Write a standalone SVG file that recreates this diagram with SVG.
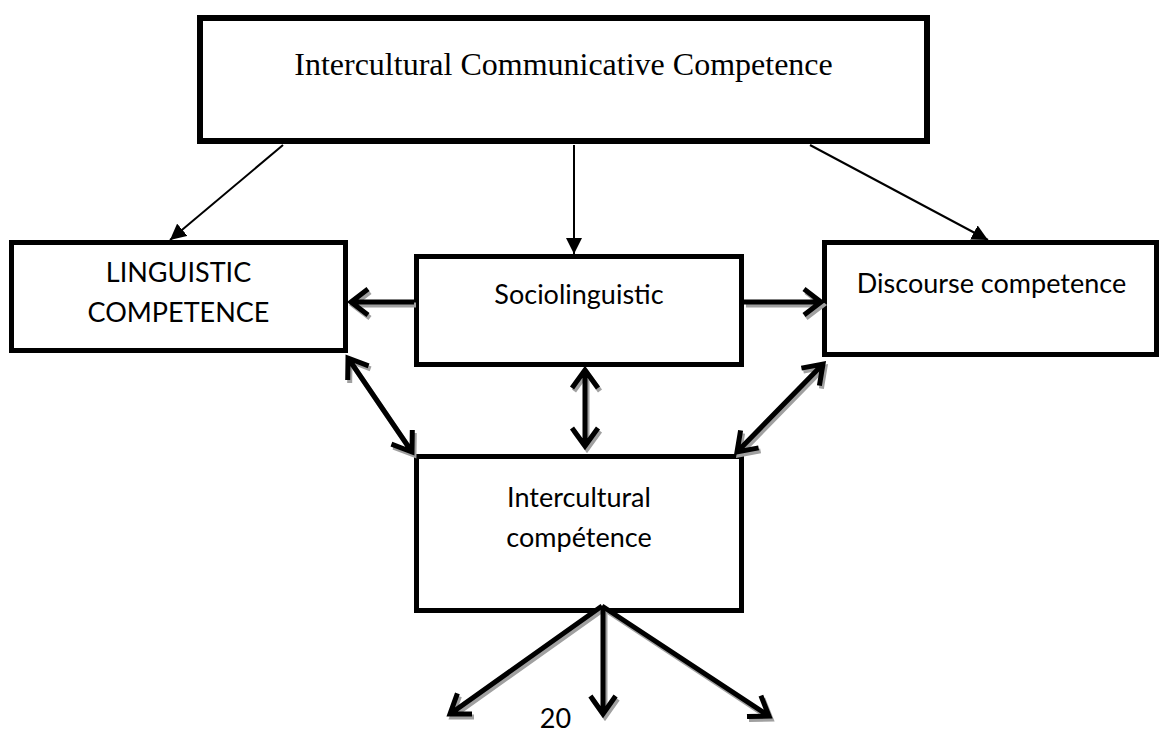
<svg xmlns="http://www.w3.org/2000/svg" xmlns:xlink="http://www.w3.org/1999/xlink" width="1160" height="734" viewBox="0 0 1160 734">
<style>
.box{fill:#fff;stroke:#000}
.lbl{font-family:Lato,"Open Sans","Liberation Sans",sans-serif;font-size:27px;fill:#000;text-anchor:middle}
.title{font-family:"Liberation Serif","Times New Roman",serif;font-size:32px;fill:#000;text-anchor:middle}
.thin{fill:none;stroke:#000;stroke-width:2}
.thick{fill:none;stroke-width:5;stroke-linecap:butt;stroke-linejoin:miter}
</style>
<defs>
<marker id="tri" markerUnits="userSpaceOnUse" markerWidth="16" markerHeight="16" refX="14" refY="7" orient="auto" viewBox="0 0 14 14">
<path d="M0,0 L14,7 L0,14 Z" fill="#000"/>
</marker>
<g id="thickArrows">
<path d="M414,302 H352 M368,289 L351,302 L368,315"/>
<path d="M744,302 H820 M804,289 L821,302 L804,315"/>
<path d="M585,371 V445 M572,388 L585,370 L598,388 M572,428 L585,446 L598,428"/>
<path d="M348,358 L412,452 M347.7,380 L348,358 L368.6,365.8 M412.3,430 L412,452 L391.4,444.2"/>
<path d="M823,364 L737,452 M801.4,368.1 L823,364 L819.4,385.7 M758.6,447.9 L737,452 L740.6,430.3"/>
<path d="M602,606 L450,714 M472,714 L450,714 L457.4,693.3"/>
<path d="M603,606 V713 M590.4,696 L603,714 L615.6,696"/>
<path d="M602,606 L769,716 M760.9,695.6 L769,716 L747,716.6"/>
</g>
</defs>
<g id="node-icc">
<rect class="box" x="200" y="18" width="727" height="123" stroke-width="6"/>
<text class="title" x="563.5" y="75">Intercultural Communicative Competence</text>
</g>
<g id="node-linguistic">
<rect class="box" x="11.5" y="242.5" width="334" height="108" stroke-width="5"/>
<text class="lbl" x="178.5" y="282">LINGUISTIC</text>
<text class="lbl" x="178.5" y="322">COMPETENCE</text>
</g>
<g id="node-sociolinguistic">
<rect class="box" x="416.5" y="256.5" width="325" height="108" stroke-width="5"/>
<text class="lbl" x="579" y="304">Sociolinguistic</text>
</g>
<g id="node-discourse">
<rect class="box" x="824.5" y="242.5" width="332" height="112" stroke-width="5"/>
<text class="lbl" x="991.5" y="293">Discourse competence</text>
</g>
<g id="node-intercultural">
<rect class="box" x="416.5" y="456.5" width="325" height="154" stroke-width="5"/>
<text class="lbl" x="579" y="507">Intercultural</text>
<text class="lbl" x="579" y="547">compétence</text>
</g>
<g id="connectors">
<line class="thin" x1="283" y1="145" x2="170" y2="240" marker-end="url(#tri)"/>
<line class="thin" x1="574" y1="145" x2="574" y2="254" marker-end="url(#tri)"/>
<line class="thin" x1="810" y1="145" x2="988" y2="240" marker-end="url(#tri)"/>
<use xlink:href="#thickArrows" href="#thickArrows" class="thick" stroke="#a0a0a0" transform="translate(2,3)"/>
<use xlink:href="#thickArrows" href="#thickArrows" class="thick" stroke="#000"/>
</g>
<text class="lbl" x="555.5" y="728">20</text>
</svg>
